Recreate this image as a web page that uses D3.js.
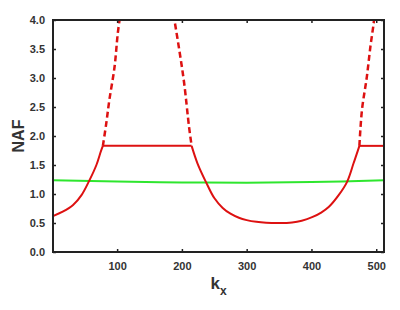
<!DOCTYPE html>
<html>
<head>
<meta charset="utf-8">
<script src="https://cdn.jsdelivr.net/npm/d3@7"></script>
<style>
  body { margin: 0; background: #fff; }
  text { font-family: "Liberation Sans", Arial, sans-serif; font-weight: bold; }
</style>
</head>
<body>
<svg id="chart"></svg>
<script>
// ---- data ----
const xTicks = [100, 200, 300, 400, 500];
const yTicks = [0, 0.5, 1, 1.5, 2, 2.5, 3, 3.5, 4];

// red NAF, solid parts
const redLeftK = [1, 16, 32, 45, 57, 68, 75, 78];
const redLeftV = [0.62, 0.695, 0.81, 0.98, 1.23, 1.5, 1.74, 1.83];
const redMidK = [215, 224, 237, 250, 263, 275, 288, 300, 315, 330, 350, 370, 385, 401, 415, 427, 442, 455, 465, 472, 474];
const redMidV = [1.83, 1.53, 1.21, 0.93, 0.76, 0.66, 0.59, 0.55, 0.52, 0.505, 0.5, 0.51, 0.54, 0.60, 0.68, 0.78, 0.98, 1.21, 1.53, 1.76, 1.83];
const flat1K = [78, 215];
const flat2K = [474, 512];
const flatV = 1.83;

// red NAF, dashed parts (above the cap)
const dash1K = [78, 83, 88, 96, 101, 105];
const dash1V = [1.83, 2.2, 2.62, 3.19, 3.77, 4.1];
const dash2K = [187, 196, 203.5, 211, 215];
const dash2V = [4.1, 3.48, 2.91, 2.16, 1.83];
const dash3K = [474, 478, 485.5, 491, 496, 497.5];
const dash3V = [1.83, 2.45, 3.02, 3.54, 3.94, 4.1];

// green NAF
const greenK = [1, 100, 200, 300, 400, 512];
const greenV = [1.235, 1.215, 1.2, 1.195, 1.205, 1.235];

const W = 400, H = 310;
const margin = {top: 20, right: 16, bottom: 58, left: 53};
const width = W - margin.left - margin.right;
const height = H - margin.top - margin.bottom;

const svg = d3.select('#chart').attr('width', W).attr('height', H);
const g = svg.append('g').attr('transform', `translate(${margin.left},${margin.top})`);

const x = d3.scaleLinear().domain([1, 512]).range([0, width]);
const y = d3.scaleLinear().domain([0, 4]).range([height, 0]);

g.append('clipPath').attr('id', 'clip')
  .append('rect').attr('width', width).attr('height', height);

const zip = (ks, vs) => ks.map((k, i) => [k, vs[i]]);
const line = d3.line().x(d => x(d[0])).y(d => y(d[1])).curve(d3.curveCatmullRom.alpha(0.5));
const lines = g.append('g').attr('clip-path', 'url(#clip)');

// green
lines.append('path').datum(zip(greenK, greenV))
  .attr('d', line).attr('fill', 'none').attr('stroke', '#2ee62e').attr('stroke-width', 2);

// red solid
[zip(redLeftK, redLeftV), zip(redMidK, redMidV),
 flat1K.map(k => [k, flatV]), flat2K.map(k => [k, flatV])].forEach(d => {
  lines.append('path').datum(d)
    .attr('d', line).attr('fill', 'none').attr('stroke', '#dd1111').attr('stroke-width', 2);
});

// red dashed
[zip(dash1K, dash1V), zip(dash2K, dash2V), zip(dash3K, dash3V)].forEach(d => {
  lines.append('path').datum(d)
    .attr('d', line).attr('fill', 'none').attr('stroke', '#dd1111')
    .attr('stroke-width', 2.5).attr('stroke-dasharray', '6,3.5');
});

// axes, ticks pointing inward on all four sides
const axColor = '#222';
const styleAxis = sel => {
  sel.select('.domain').remove();
  sel.selectAll('.tick line').attr('stroke', axColor).attr('stroke-width', 1.5);
  sel.selectAll('.tick text').attr('fill', '#333').style('font-size', '11px');
};

g.append('g').attr('transform', `translate(0,${height})`)
  .call(d3.axisBottom(x).tickValues(xTicks).tickSizeInner(-3).tickPadding(10))
  .call(styleAxis);
g.append('g')
  .call(d3.axisTop(x).tickValues(xTicks).tickSizeInner(-3).tickFormat(''))
  .call(styleAxis);
g.append('g')
  .call(d3.axisLeft(y).tickValues(yTicks).tickSizeInner(-3).tickPadding(8).tickFormat(d3.format('.1f')))
  .call(styleAxis);
g.append('g').attr('transform', `translate(${width},0)`)
  .call(d3.axisRight(y).tickValues(yTicks).tickSizeInner(-3).tickFormat(''))
  .call(styleAxis);

g.append('rect').attr('width', width).attr('height', height)
  .attr('fill', 'none').attr('stroke', axColor).attr('stroke-width', 2);

// axis titles
svg.append('text')
  .attr('transform', `translate(24,${margin.top + height / 2}) rotate(-90)`)
  .attr('text-anchor', 'middle').attr('fill', '#333').style('font-size', '16px')
  .text('NAF');

const kx = svg.append('text')
  .attr('x', margin.left + width / 2).attr('y', 289)
  .attr('text-anchor', 'middle').attr('fill', '#333').style('font-size', '17px');
kx.append('tspan').text('k');
kx.append('tspan').attr('dy', 6).style('font-size', '12px').text('x');
</script>
</body>
</html>
